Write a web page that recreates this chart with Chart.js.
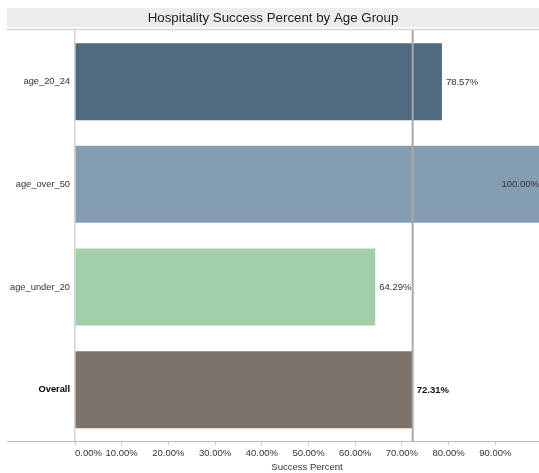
<!DOCTYPE html>
<html>
<head>
<meta charset="utf-8">
<script src="https://cdn.jsdelivr.net/npm/chart.js@4/dist/chart.umd.min.js"></script>
<style>
body{margin:0;background:#fff}
#wrap{width:539px;height:473px}
</style>
</head>
<body>
<div id="wrap"><canvas id="chart" width="539" height="473"></canvas></div>
<script>
// data
var groups = ['age_20_24', 'age_over_50', 'age_under_20', 'Overall']
var successPct = [78.57, 100.00, 64.29, 72.31]
var barColors = ['#4f6981', '#859db1', '#a2cfaa', '#7d736a']
var tickValues = [0, 10, 20, 30, 40, 50, 60, 70, 80, 90]
var tickLabels = ['0.00%', '10.00%', '20.00%', '30.00%', '40.00%', '50.00%', '60.00%', '70.00%', '80.00%', '90.00%']
var xMax = 99.36
var overallIdx = groups.indexOf('Overall')

var FONT = '"Liberation Sans", Arial, Helvetica, sans-serif'

// grey title strip + lines that sit outside the plot area
var frame = {
  id: 'frame',
  beforeDraw: function(chart){
    var c = chart.ctx
    c.save()
    c.fillStyle = '#ebecee'
    c.fillRect(7, 8, 532, 19)
    c.strokeStyle = '#d6d6d6'
    c.lineWidth = 1.5
    c.beginPath(); c.moveTo(7, 29.5); c.lineTo(539, 29.5); c.stroke()
    c.restore()
  },
  afterDraw: function(chart){
    var c = chart.ctx, a = chart.chartArea
    c.save()
    c.strokeStyle = '#bdbdbd'
    c.lineWidth = 1
    c.beginPath(); c.moveTo(7, a.bottom + 0.5); c.lineTo(539, a.bottom + 0.5); c.stroke()
    c.restore()
  }
}

// reference line at the Overall value and the value labels
var labels = {
  id: 'labels',
  afterDatasetsDraw: function(chart){
    var c = chart.ctx, a = chart.chartArea
    var xs = chart.scales.x
    var rx = xs.getPixelForValue(successPct[overallIdx])
    c.save()
    c.strokeStyle = '#a9a9a9'
    c.lineWidth = 2
    c.beginPath(); c.moveTo(rx, a.top); c.lineTo(rx, a.bottom); c.stroke()

    var meta = chart.getDatasetMeta(0)
    c.textBaseline = 'middle'
    meta.data.forEach(function(bar, i){
      var txt = successPct[i].toFixed(2) + '%'
      var bold = i === overallIdx
      c.font = (bold ? 'bold ' : '') + '9.5px ' + FONT
      c.fillStyle = bold ? '#111' : '#333'
      var w = c.measureText(txt).width
      var x = bar.x + 4
      if (x + w > a.right) {
        c.textAlign = 'right'
        x = a.right
      } else {
        c.textAlign = 'left'
      }
      c.fillText(txt, x, bar.y + 0.5)
    })
    c.restore()
  }
}

var ctx = document.getElementById('chart').getContext('2d')
new Chart(ctx, {
  type: 'bar',
  data: {
    labels: groups,
    datasets: [{
      data: successPct,
      backgroundColor: barColors,
      barPercentage: 0.75,
      categoryPercentage: 1,
      borderWidth: 0
    }]
  },
  options: {
    indexAxis: 'y',
    responsive: false,
    animation: false,
    devicePixelRatio: 1,
    layout: {padding: {left: 7, right: 0, top: 0, bottom: 0}},
    plugins: {
      legend: {display: false},
      tooltip: {enabled: false},
      title: {
        display: true,
        text: 'Hospitality Success Percent by Age Group',
        color: '#222',
        font: {family: FONT, size: 13.3, weight: 'normal', lineHeight: 1.2},
        padding: {top: 10.5, bottom: 3.9}
      }
    },
    scales: {
      x: {
        min: 0,
        max: xMax,
        afterBuildTicks: function(s){
          s.ticks = tickValues.map(function(v){ return {value: v} }).concat([{value: xMax}])
        },
        afterFit: function(s){
          s.height = 32
          s.paddingLeft = 0
          s.paddingRight = 0
        },
        grid: {
          drawOnChartArea: false,
          drawTicks: true,
          tickLength: 4,
          tickColor: function(ctx){ return ctx.tick && ctx.tick.value === xMax ? 'rgba(0,0,0,0)' : '#c4c4c4' }
        },
        border: {display: false},
        ticks: {
          autoSkip: false,
          maxRotation: 0,
          align: 'inner',
          padding: 3,
          color: '#333',
          font: {family: FONT, size: 9.5},
          callback: function(v){
            var i = tickValues.indexOf(v)
            return i < 0 ? '' : tickLabels[i]
          }
        },
        title: {
          display: true,
          text: 'Success Percent',
          color: '#333',
          font: {family: FONT, size: 9.5},
          padding: {top: 0, bottom: 0}
        }
      },
      y: {
        afterFit: function(s){ s.width = 68 },
        grid: {display: false, drawTicks: false},
        border: {display: true, color: '#d3d3d3', width: 1.5},
        ticks: {
          padding: 5,
          color: function(ctx){ return ctx.index === overallIdx ? '#000' : '#333' },
          font: function(ctx){
            return {family: FONT, size: 9.3, weight: ctx.index === overallIdx ? 'bold' : 'normal'}
          }
        }
      }
    }
  },
  plugins: [frame, labels]
})
</script>
</body>
</html>
